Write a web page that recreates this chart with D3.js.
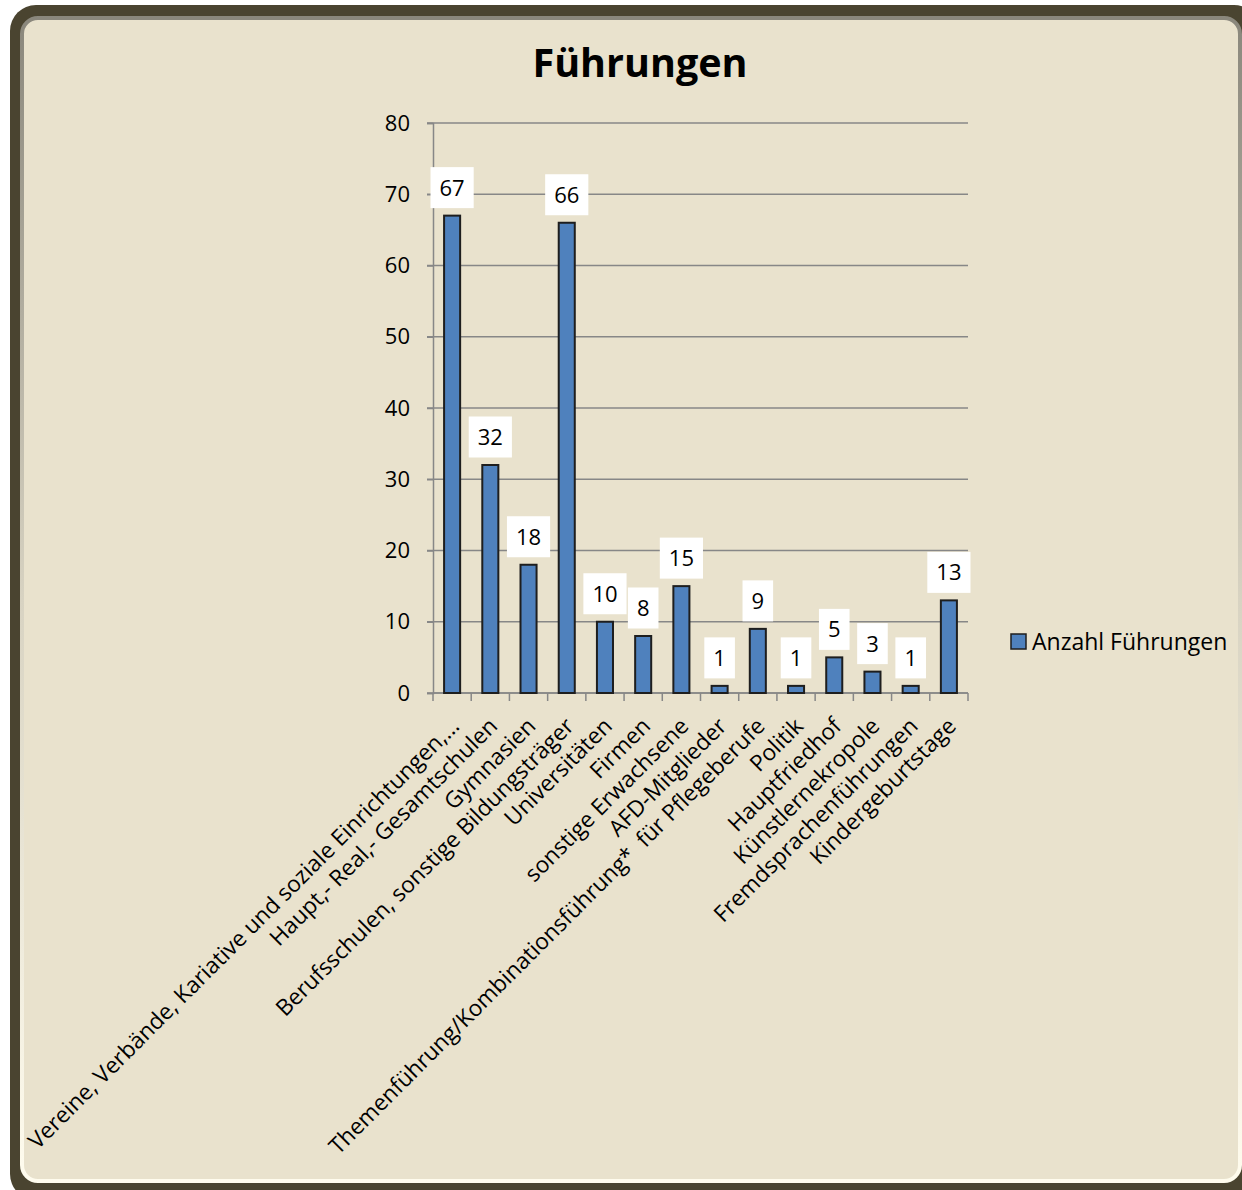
<!DOCTYPE html>
<html>
<head>
<meta charset="utf-8">
<script src="https://cdn.jsdelivr.net/npm/d3@7"></script>
<style>
  body { margin: 0; background: #fff; }
  svg { display: block; font-family: "Open Sans", sans-serif; }
</style>
</head>
<body>
<svg id="chart" width="1242" height="1190"></svg>
<script>
// data
const categories = [
  "Vereine, Verbände, Kariative und soziale Einrichtungen,…",
  "Haupt,- Real,- Gesamtschulen",
  "Gymnasien",
  "Berufsschulen, sonstige Bildungsträger",
  "Universitäten",
  "Firmen",
  "sonstige Erwachsene",
  "AFD-Mitglieder",
  "Themenführung/Kombinationsführung*  für Pflegeberufe",
  "Politik",
  "Hauptfriedhof",
  "Künstlernekropole",
  "Fremdsprachenführungen",
  "Kindergeburtstage"
];
const values = [67, 32, 18, 66, 10, 8, 15, 1, 9, 1, 5, 3, 1, 13];
const yTicks = [0, 10, 20, 30, 40, 50, 60, 70, 80];
const seriesName = "Anzahl Führungen";
const title = "Führungen";

const svg = d3.select("#chart");

// frame
svg.append("rect")
  .attr("x", 10).attr("y", 5)
  .attr("width", 1250).attr("height", 1195)
  .attr("rx", 26)
  .attr("fill", "#4a4430");

const defs = svg.append("defs");
const bevel = defs.append("linearGradient")
  .attr("id", "bevel").attr("x1", 0).attr("y1", 0).attr("x2", 0).attr("y2", 1);
bevel.append("stop").attr("offset", "0%").attr("stop-color", "#8a877c");
bevel.append("stop").attr("offset", "50%").attr("stop-color", "#d8d3c2");
bevel.append("stop").attr("offset", "100%").attr("stop-color", "#fffcee");

svg.append("rect")
  .attr("x", 22).attr("y", 18)
  .attr("width", 1218).attr("height", 1163)
  .attr("rx", 16)
  .attr("fill", "#e9e2cd")
  .attr("stroke", "url(#bevel)")
  .attr("stroke-width", 4);

// scales
const pLeft = 433, pRight = 968, pTop = 123, pBottom = 693;

const x = d3.scaleBand()
  .domain(categories)
  .range([pLeft, pRight])
  .paddingInner(0.58)
  .paddingOuter(0.29);

const y = d3.scaleLinear()
  .domain([0, 80])
  .range([pBottom, pTop]);

// gridlines
svg.append("g")
  .selectAll("line")
  .data(yTicks)
  .enter()
  .append("line")
  .attr("x1", pLeft - 6)
  .attr("x2", pRight)
  .attr("y1", d => y(d))
  .attr("y2", d => y(d))
  .attr("stroke", "#878787")
  .attr("stroke-width", 1.5);

// y axis
const yAxis = svg.append("g")
  .attr("transform", `translate(${pLeft},0)`)
  .call(d3.axisLeft(y).tickValues(yTicks).tickSize(6).tickPadding(17));
yAxis.select(".domain").attr("stroke", "#878787").attr("stroke-width", 1.5);
yAxis.selectAll(".tick line").attr("stroke", "#878787").attr("stroke-width", 1.5);
yAxis.selectAll("text")
  .style("font-size", "22px")
  .style("font-family", "'Open Sans', sans-serif")
  .attr("fill", "#000");

// x axis line and ticks at band boundaries
const edges = d3.range(categories.length + 1).map(i => pLeft + i * (pRight - pLeft) / categories.length);
svg.append("line")
  .attr("x1", pLeft).attr("x2", pRight)
  .attr("y1", pBottom).attr("y2", pBottom)
  .attr("stroke", "#878787").attr("stroke-width", 1.5);
svg.append("g")
  .selectAll("line")
  .data(edges)
  .enter()
  .append("line")
  .attr("x1", d => d).attr("x2", d => d)
  .attr("y1", pBottom).attr("y2", pBottom + 8)
  .attr("stroke", "#878787").attr("stroke-width", 1.5);

// bars
svg.append("g")
  .selectAll("rect")
  .data(values)
  .enter()
  .append("rect")
  .attr("x", (d, i) => x(categories[i]))
  .attr("y", d => y(d))
  .attr("width", x.bandwidth())
  .attr("height", d => pBottom - y(d))
  .attr("fill", "#4f81bd")
  .attr("stroke", "#1e1e1e")
  .attr("stroke-width", 2);

// data labels in white boxes
const lbl = svg.append("g")
  .selectAll("g")
  .data(values)
  .enter()
  .append("g")
  .attr("transform", (d, i) => `translate(${x(categories[i]) + x.bandwidth() / 2},${y(d) - 28})`);

lbl.append("rect").attr("fill", "#fff");
lbl.append("text")
  .attr("text-anchor", "middle")
  .attr("dy", "0.36em")
  .style("font-size", "22px")
  .text(d => d);
lbl.each(function() {
  const g = d3.select(this);
  const w = g.select("text").node().getComputedTextLength() + 18;
  g.select("rect")
    .attr("x", -w / 2).attr("y", -20.5)
    .attr("width", w).attr("height", 41);
});

// category labels
svg.append("g")
  .selectAll("text")
  .data(categories)
  .enter()
  .append("text")
  .attr("transform", d => `translate(${x(d) + x.bandwidth() / 2 - 3},${pBottom + 23}) rotate(-45)`)
  .attr("text-anchor", "end")
  .attr("dy", "0.72em")
  .style("font-size", "22.6px")
  .style("white-space", "pre")
  .text(d => d);

// title
svg.append("text")
  .attr("x", 640).attr("y", 77)
  .attr("text-anchor", "middle")
  .style("font-size", "39.5px")
  .style("font-weight", "bold")
  .text(title);

// legend
const legend = svg.append("g").attr("transform", "translate(1011,634)");
legend.append("rect")
  .attr("width", 15).attr("height", 15)
  .attr("fill", "#4f81bd")
  .attr("stroke", "#1e1e1e")
  .attr("stroke-width", 1.5);
legend.append("text")
  .attr("x", 21).attr("y", 15.5)
  .style("font-size", "23px")
  .text(seriesName);
</script>
</body>
</html>
